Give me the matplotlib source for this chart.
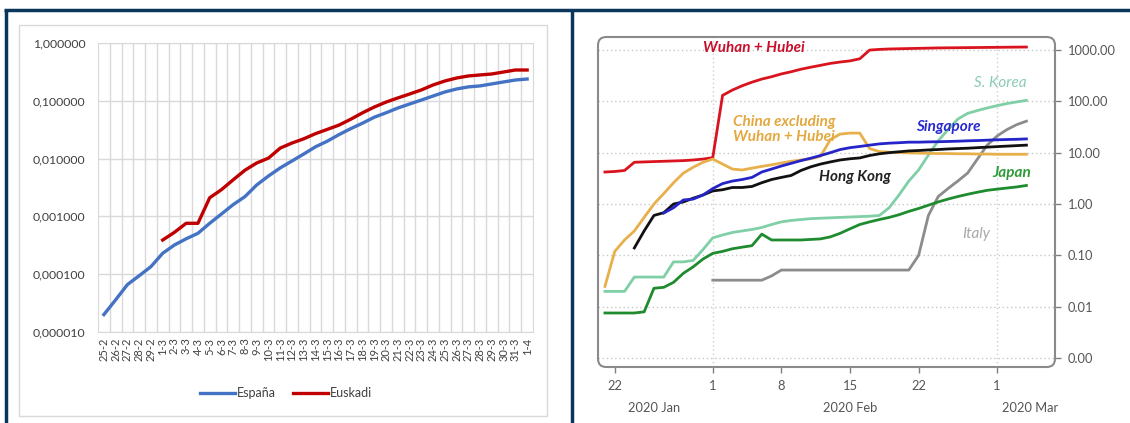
import numpy as np
import pandas as pd
import matplotlib
matplotlib.use("Agg")
import matplotlib.pyplot as plt
import matplotlib.dates as mdates
from matplotlib.patches import Rectangle, FancyBboxPatch
from matplotlib.lines import Line2D
from matplotlib.ticker import FixedLocator, FuncFormatter, NullLocator

plt.rcParams['font.family'] = ['Lato', 'DejaVu Sans']

# --- left panel: España vs Euskadi (category axis, log scale) ---
dias = ['25-2', '26-2', '27-2', '28-2', '29-2'] + [f'{d}-3' for d in range(1, 32)] + ['1-4']
espana = [2.0e-5, 3.6e-5, 6.6e-5, 9.4e-5, 1.35e-4, 2.3e-4, 3.2e-4, 4.1e-4, 5.1e-4,
          7.6e-4, 1.1e-3, 1.6e-3, 2.2e-3, 3.5e-3, 5.0e-3, 6.9e-3, 9.1e-3, 0.012,
          0.016, 0.020, 0.026, 0.033, 0.041, 0.052, 0.062, 0.075, 0.088, 0.103,
          0.121, 0.142, 0.160, 0.174, 0.181, 0.196, 0.212, 0.229, 0.238]
euskadi = [np.nan] * 5 + [3.9e-4, 5.3e-4, 7.6e-4, 7.6e-4, 2.1e-3, 2.9e-3, 4.3e-3,
                          6.3e-3, 8.4e-3, 0.0102, 0.0152, 0.0186, 0.022, 0.027,
                          0.032, 0.038, 0.048, 0.062, 0.078, 0.095, 0.112, 0.131,
                          0.154, 0.188, 0.220, 0.248, 0.269, 0.280, 0.291, 0.315,
                          0.341, 0.341]
ticks_izq = [1e-5, 1e-4, 1e-3, 1e-2, 1e-1, 1.0]

# --- right panel: daily series per region ---
wuhan_start = '2020-01-21'
wuhan = [4.2, 4.3, 4.5, 6.5, 6.6, 6.7, 6.8, 6.9, 7.0, 7.2, 7.5, 8.0,
         130, 165, 200, 235, 270, 300, 340, 375, 420, 460, 500, 545, 580, 610, 670,
         990, 1020, 1040, 1050, 1060, 1070, 1080, 1090, 1095, 1100, 1105, 1110,
         1115, 1120, 1125, 1130, 1135]
china_start = '2020-01-21'
china_ex = [0.025, 0.12, 0.2, 0.3, 0.55, 1.0, 1.6, 2.6, 4.0, 5.2, 6.5, 7.5,
            6.0, 4.8, 4.6, 5.0, 5.4, 5.8, 6.3, 6.8, 7.2, 7.6, 8.5,
            18, 23, 24, 24, 12, 10.5, 10.2,
            10.0, 9.9, 9.8, 9.7, 9.6, 9.6, 9.5, 9.5, 9.4, 9.4, 9.3, 9.3, 9.3, 9.3]
singapore_start = '2020-01-27'
singapore = [0.67, 0.85, 1.2, 1.25, 1.5, 2.0, 2.5, 2.8, 3.0, 3.3, 4.2, 4.8, 5.5,
             6.2, 7.0, 7.8, 8.8, 10.0, 11.5, 12.5, 13.2, 14.0, 14.8, 15.3, 15.6,
             16.0, 16.0, 16.2, 16.3, 16.5, 16.7, 17.0, 17.2, 17.5, 17.8, 18.0,
             18.2, 18.5]
hk_start = '2020-01-24'
hong_kong = [0.14, 0.3, 0.6, 0.68, 1.0, 1.1, 1.3, 1.5, 1.8, 1.9, 2.1, 2.1, 2.2,
             2.6, 3.0, 3.3, 3.6, 4.5, 5.3, 6.0, 6.6, 7.2, 7.6, 7.9, 8.8, 9.5,
             10.0, 10.4, 10.8, 11.0, 11.3, 11.5, 11.8, 12.0, 12.2, 12.5, 12.8,
             13.1, 13.4, 13.7, 14.0]
korea_start = '2020-01-21'
s_korea = [0.02, 0.02, 0.02, 0.038, 0.038, 0.038, 0.038, 0.075, 0.075, 0.08, 0.13, 0.22,
           0.25, 0.28, 0.3, 0.32, 0.35, 0.4, 0.45, 0.48, 0.5, 0.52, 0.53, 0.54,
           0.55, 0.56, 0.57, 0.58,
           0.6, 0.85, 1.5, 2.8, 4.6, 9, 17, 28, 45, 58, 66, 74, 82, 90, 97, 104]
japan_start = '2020-01-21'
japan = [0.0076, 0.0076, 0.0076, 0.0076, 0.008, 0.023, 0.024, 0.03, 0.045, 0.06,
         0.085, 0.11, 0.12, 0.135, 0.145, 0.155, 0.26, 0.2, 0.2, 0.2, 0.2, 0.205,
         0.21, 0.23, 0.27, 0.33, 0.4, 0.45, 0.5, 0.55, 0.62, 0.72, 0.82, 0.95,
         1.1, 1.25, 1.4, 1.55, 1.7, 1.85, 1.95, 2.05, 2.15, 2.3]
italy_start = '2020-02-01'
italy = [0.033, 0.033, 0.033, 0.033, 0.033, 0.033, 0.04] + [0.052] * 14 + \
        [0.1, 0.6, 1.4, 2.0, 2.8, 4.0, 7.5, 14, 21, 28, 35, 41]

ticks_der = [0.001, 0.01, 0.1, 1, 10, 100, 1000]
fechas_tick = ['2020-01-22', '2020-02-01', '2020-02-08', '2020-02-15', '2020-02-22', '2020-03-01']
etiquetas_tick = ['22', '1', '8', '15', '22', '1']
meses = [('2020-01-26 00:00', '2020 Jan'), ('2020-02-15 00:00', '2020 Feb'),
         ('2020-03-04 08:00', '2020 Mar')]

W, H = 1130, 423


def fig_rect(x0, y0, x1, y1):
    # pixel box with top-left origin -> figure fraction
    return [x0 / W, 1 - y1 / H, (x1 - x0) / W, (y1 - y0) / H]


fig = plt.figure(figsize=(W / 100, H / 100), dpi=100)
fig.patch.set_facecolor('white')

# navy frame around both panels
navy = '#0b365c'
for xs, ys in [((4 / W, 1), (1 - 10 / H, 1 - 10 / H)),
               ((5.5 / W, 5.5 / W), (0, 1 - 10 / H)),
               ((571.5 / W, 571.5 / W), (0, 1 - 10 / H))]:
    fig.add_artist(Line2D(xs, ys, color=navy, lw=2.5, transform=fig.transFigure,
                          solid_capstyle='butt'))

# chart area outline of the left panel
fig.add_artist(Rectangle((19 / W, 1 - 416 / H), 528 / W, 391 / H, transform=fig.transFigure,
                         fill=False, ec='#D9D9D9', lw=1))

ax1 = fig.add_axes(fig_rect(98, 43, 533, 332))
x = np.arange(len(dias))
ax1.plot(x, espana, color='#4472C4', lw=2.4, label='España', zorder=3)
ax1.plot(x, euskadi, color='#C00000', lw=2.4, label='Euskadi', zorder=3)
ax1.set_yscale('log')
ax1.set_ylim(1e-5, 1)
ax1.set_xlim(-0.5, len(dias) - 0.5)
ax1.yaxis.set_major_locator(FixedLocator(ticks_izq))
ax1.yaxis.set_minor_locator(NullLocator())
ax1.yaxis.set_major_formatter(FuncFormatter(lambda v, p: f'{v:.6f}'.replace('.', ',')))
ax1.set_xticks(x)
ax1.set_xticklabels(dias, rotation=90)
ax1.set_xticks(np.arange(0.5, len(dias) - 1), minor=True)
ax1.grid(which='major', axis='y', color='#D9D9D9', lw=1)
ax1.grid(which='minor', axis='x', color='#D9D9D9', lw=1)
ax1.tick_params(axis='both', which='both', length=0)
ax1.tick_params(axis='y', labelsize=8.8, labelcolor='#404040', pad=9)
ax1.tick_params(axis='x', labelsize=8, labelcolor='#404040', pad=4)
for s in ax1.spines.values():
    s.set_color('#D9D9D9')
ax1.set_axisbelow(True)

fig.legend(handles=ax1.get_lines(), loc='center', bbox_to_anchor=(286 / W, 1 - 393 / H),
           ncol=2, frameon=False, fontsize=9, handlelength=2.8, columnspacing=1.4,
           handletextpad=0.15, labelcolor='#404040')

# --- right panel ---
ax2 = fig.add_axes(fig_rect(598, 37, 1055, 367))
series = [
    (wuhan_start, wuhan, '#D9141E'),
    (korea_start, s_korea, '#80CFA6'),
    (italy_start, italy, '#8C8C8C'),
    (japan_start, japan, '#1E8C2E'),
    (china_start, china_ex, '#E8B04B'),
    (hk_start, hong_kong, '#111111'),
    (singapore_start, singapore, '#2424C8'),
]
for start, vals, color in series:
    fechas = pd.date_range(start, periods=len(vals), freq='D')
    ax2.plot(fechas, vals, color=color, lw=2.0, zorder=3)

ax2.set_yscale('log')
ax2.set_ylim(10 ** -3.17, 10 ** 3.25)
ax2.set_xlim(pd.Timestamp('2020-01-20 07:00'), pd.Timestamp('2020-03-06 22:00'))
ax2.yaxis.tick_right()
ax2.yaxis.set_major_locator(FixedLocator(ticks_der))
ax2.yaxis.set_minor_locator(NullLocator())
ax2.yaxis.set_major_formatter(FuncFormatter(lambda v, p: f'{v:.2f}'))
ax2.set_xticks(pd.to_datetime(fechas_tick))
ax2.set_xticklabels(etiquetas_tick)
ax2.tick_params(axis='both', direction='out', length=4, color='#808080', width=1,
                labelsize=9.3, labelcolor='#555555', pad=5)
ax2.yaxis.grid(True, linestyle=(0, (1, 2)), color='#C8C8C8', lw=1)
for f in ['2020-02-01', '2020-03-01']:
    ax2.axvline(pd.Timestamp(f), linestyle=(0, (1, 2)), color='#D0D0D0', lw=1, zorder=1)
for s in ax2.spines.values():
    s.set_visible(False)
ax2.add_patch(FancyBboxPatch((0, 0), 1, 1, boxstyle='round,pad=0,rounding_size=0.018',
                             transform=ax2.transAxes, fill=False, ec='#8A8A8A', lw=1.5,
                             clip_on=False, mutation_aspect=457 / 330, zorder=5))

for fecha, texto in meses:
    ax2.text(mdates.date2num(pd.Timestamp(fecha)), -0.125, texto, ha='center', va='center',
             fontsize=9.3, color='#555555', transform=ax2.get_xaxis_transform())

etiquetas = [
    ('2020-02-05 05:00', 1070, 'Wuhan + Hubei', '#C8102E', 'center'),
    ('2020-02-03 02:00', 28, 'China excluding\nWuhan + Hubei', '#E3A840', 'left'),
    ('2020-03-01 07:00', 223, 'S. Korea', '#8BCBB5', 'center'),
    ('2020-02-25 00:00', 31, 'Singapore', '#2A2ACF', 'center'),
    ('2020-02-15 12:00', 3.3, 'Hong Kong', '#222222', 'center'),
    ('2020-03-02 12:00', 4.0, 'Japan', '#2E9A3A', 'center'),
    ('2020-02-27 22:00', 0.26, 'Italy', '#A8A8A8', 'center'),
]
for fecha, yv, texto, color, ha in etiquetas:
    peso = 'normal' if texto in ('S. Korea', 'Italy') else 'bold'
    ax2.text(mdates.date2num(pd.Timestamp(fecha)), yv, texto, ha=ha, va='center',
             fontsize=11, color=color, style='italic', fontweight=peso,
             linespacing=1.05, zorder=6)

fig.savefig('out.png', dpi=100)
